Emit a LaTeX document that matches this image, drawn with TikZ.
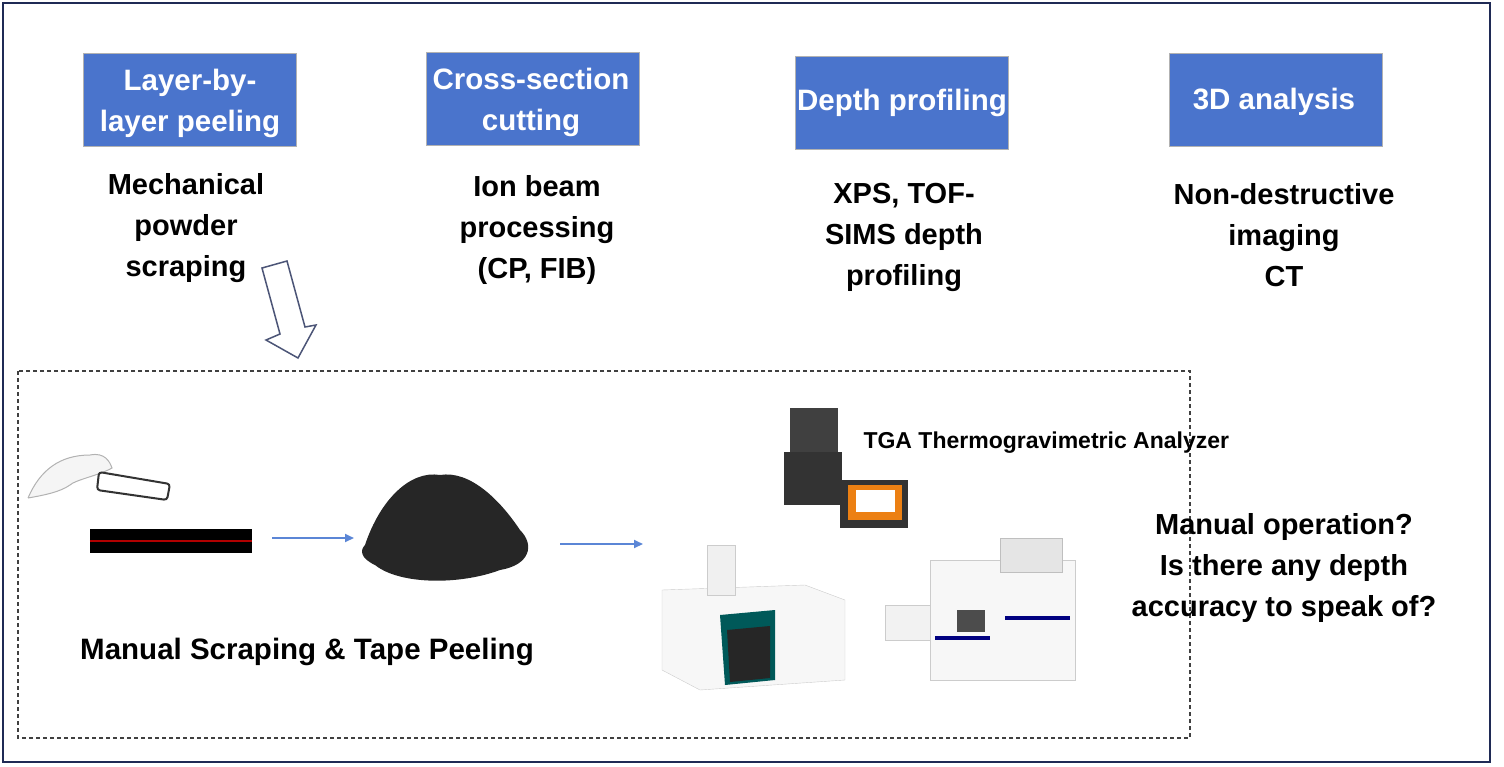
\documentclass[tikz,border=0pt]{standalone}
\usepackage{fontspec}
\setmainfont{Liberation Sans}
\usetikzlibrary{arrows.meta}
\begin{document}
\begin{tikzpicture}[x=1pt,y=-1pt,
 hbox/.style={draw=gray!60,fill=boxblue,minimum width=213pt,minimum height=93pt,text=white,font=\bfseries\fontsize{29.5}{41}\selectfont,align=center,inner sep=2pt},
 desc/.style={font=\bfseries\fontsize{29}{41}\selectfont,align=center,anchor=north},
 flow/.style={draw=arrblue,line width=1.8pt,-{Triangle[length=9pt,width=8pt]}}]
\definecolor{boxblue}{HTML}{4A74CC}
\definecolor{arrblue}{HTML}{5B86D6}
\definecolor{navy}{HTML}{1F2A55}
\useasboundingbox (0,0) rectangle (1504,766);
\draw[navy,line width=2.5pt] (3,3) rectangle (1490,762);
\node[hbox] (b1) at (190,100) {};
\node[hbox] (b2) at (533,99) {};
\node[hbox] (b3) at (902,103) {};
\node[hbox] (b4) at (1276,100) {};
\node[text=white,font=\bfseries\fontsize{29.5}{41}\selectfont,align=center] (l1) at (190,103) {Layer-by-\\layer peeling};
\node[text=white,font=\bfseries\fontsize{29.5}{41}\selectfont,align=center] (l2) at (531,102) {Cross-section\\cutting};
\node[text=white,font=\bfseries\fontsize{29.5}{41}\selectfont,align=center] (l3) at (902,103) {Depth profiling};
\node[text=white,font=\bfseries\fontsize{29.5}{41}\selectfont,align=center] (l4) at (1274,102) {3D analysis};
\node[desc] (t1) at (186,170) {Mechanical\\powder\\scraping};
\node[desc] (t2) at (537,172) {Ion beam\\processing\\(CP, FIB)};
\node[desc] (t3) at (904,180) {XPS, TOF-\\SIMS depth\\profiling};
\node[desc] (t4) at (1284,180) {Non-destructive\\imaging\\CT};
% hollow arrow
\draw[navy!80,line width=1.5pt,fill=white] (262,268) -- (287,261) -- (305,327) -- (316,325) -- (298,358) -- (266,340) -- (280,334) -- cycle;
% dashed box
\draw[black!75,line width=1.8pt,dash pattern=on 4pt off 3pt] (18,371) rectangle (1190,738);
% hand and tape
\draw[gray!60,line width=1pt,fill=gray!8] (28,498) .. controls (40,470) and (60,455) .. (90,455) .. controls (105,452) and (110,462) .. (112,468) .. controls (100,475) and (75,480) .. (70,485) .. controls (60,492) and (45,495) .. (28,498);
\draw[black!80,line width=2pt,rounded corners=3pt,fill=white] (99,472) -- (170,484) -- (167,500) -- (97,490) -- cycle;
\node[fill=black,minimum width=162pt,minimum height=24pt,inner sep=0] (strip) at (171,541) {};
\draw[red!70!black,line width=1.2pt] (strip.west) -- (strip.east);
% powder
\fill[black!85] (365,545) .. controls (380,500) and (410,470) .. (440,475) .. controls (470,470) and (500,500) .. (520,530) .. controls (535,545) and (530,565) .. (500,570) .. controls (460,585) and (400,585) .. (375,565) .. controls (360,558) and (360,550) .. (365,545);
\coordinate (a1s) at (272,538); \coordinate (a1e) at (354,538);
\coordinate (a2s) at (560,544); \coordinate (a2e) at (643,544);
\draw[flow] (a1s) -- (a1e);
\draw[flow] (a2s) -- (a2e);
% TGA small instrument
\fill[black!80] (784,452) rectangle (842,505);
\fill[black!75] (790,408) rectangle (838,452);
\fill[black!80] (840,480) rectangle (908,528);
\fill[orange!70!brown] (848,485) rectangle (902,520);
\fill[white] (856,490) rectangle (895,512);
\node[font=\bfseries\fontsize{23}{26}\selectfont,anchor=west] (tga) at (860,443) {TGA Thermogravimetric Analyzer};
% white instrument 1
\draw[gray!40,fill=gray!6] (662,590) -- (805,585) -- (845,600) -- (845,680) -- (700,690) -- (662,670) -- cycle;
\draw[gray!40,fill=gray!12] (707,545) rectangle (735,595);
\fill[teal!70!black] (720,615) -- (775,610) -- (775,680) -- (725,685) -- cycle;
\fill[black!85] (727,630) -- (770,626) -- (770,678) -- (730,682) -- cycle;
% white instrument 2
\draw[gray!40,fill=gray!6] (930,560) rectangle (1075,680);
\draw[gray!40,fill=gray!10] (885,605) rectangle (930,640);
\draw[gray!50,fill=gray!20] (1000,538) rectangle (1062,572);
\fill[blue!50!black] (935,636) rectangle (990,640);
\fill[blue!50!black] (1005,616) rectangle (1070,620);
\fill[black!70] (957,610) rectangle (985,632);
\node[desc,anchor=center] (q) at (1284,568) {Manual operation?\\Is there any depth\\accuracy to speak of?};
\node[font=\bfseries\fontsize{29.5}{34}\selectfont] (cap) at (307,652) {Manual Scraping \& Tape Peeling};
\end{tikzpicture}
\end{document}
